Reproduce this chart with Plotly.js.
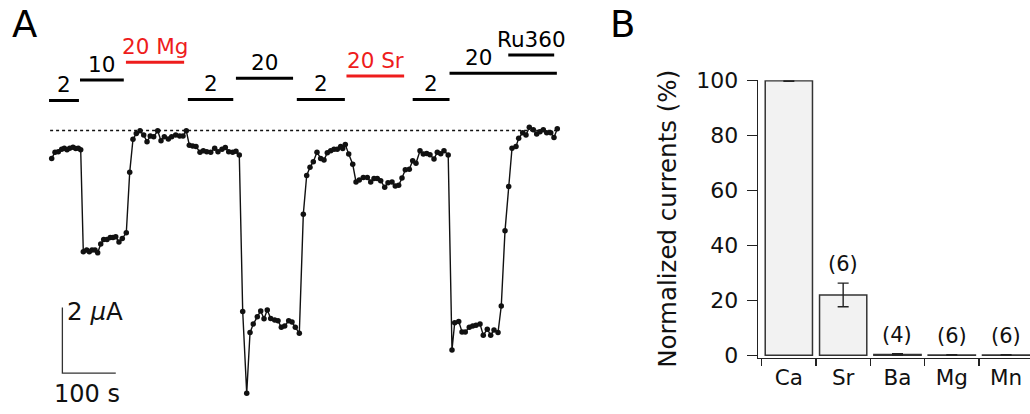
<!DOCTYPE html>
<html>
<head>
<meta charset="utf-8">
<script src="https://cdn.plot.ly/plotly-3.0.1.min.js"></script>
<style>
  html, body { margin: 0; padding: 0; background: #fff; }
  #chart { width: 1030px; height: 414px; }
</style>
</head>
<body>
<div id="chart"></div>
<script>
// ---------------- Panel A data: whole-cell current trace ----------------
const timeS = [
  0, 6.2, 12.4, 18.7, 23.6, 28.7, 33.7, 39.9, 44.9, 49.8, 54.3,
  59.2, 65.5, 70.4, 75.5, 81.1, 86.1, 91.8, 97.4, 103.6, 109.7, 114.8, 119.9, 126.0, 132.2, 139.7,
  146.1, 152.2, 158.4, 165.4, 172.3, 178.5, 184.6, 191.0, 198.5, 204.7, 210.9, 218.4, 224.7, 232.2, 239.7, 245.9, 252.1,
  257.7, 264.0, 270.2, 277.7, 283.9, 290.3, 297.8, 305.2, 311.4, 318.9, 325.1, 331.5, 338.9, 345.1, 351.3,
  357.7, 365.2, 371.4, 377.5, 385.0, 391.4, 397.6, 403.7, 410.1, 417.6, 423.8, 430.0, 436.3, 443.8, 450.0, 456.2, 463.7,
  471.2, 477.5, 483.7, 489.9, 496.8, 503.7, 509.9, 516.1, 522.5, 528.7, 534.8, 541.2, 545.0, 549.8,
  556.2, 563.7, 569.9, 576.0, 583.5, 591.0, 597.4, 603.6, 609.7, 616.1, 623.6, 629.8, 637.3, 643.4, 649.8, 656.0,
  662.2, 669.7, 676.0, 682.2, 689.7, 695.9, 702.2, 708.4, 715.9, 722.1, 728.5, 734.6, 742.5,
  749.6, 754.7, 762.2, 768.4, 774.5, 782.0, 788.4, 794.6, 802.1, 808.2, 815.7, 822.1, 828.3, 835.8,
  841.9, 848.9, 855.8, 862.0, 869.5, 874.5, 882.0, 888.2, 894.4, 901.9, 908.2, 914.4, 920.6, 927.0, 934.5, 940.6, 946.8
];
const currentUA = [
  -0.85, -0.66, -0.65, -0.57, -0.54, -0.59, -0.54, -0.51, -0.55, -0.54, -0.59,
  -3.70, -3.64, -3.70, -3.64, -3.64, -3.73, -3.46, -3.32, -3.32, -3.26, -3.26, -3.24, -3.40, -3.29, -3.12,
  -1.27, -0.27, -0.09, -0.01, -0.14, -0.34, -0.17, -0.19, -0.01, -0.31, -0.19, -0.26, -0.19, -0.14, -0.17, -0.17, -0.01,
  -0.45, -0.47, -0.49, -0.66, -0.62, -0.65, -0.66, -0.54, -0.65, -0.57, -0.52, -0.65, -0.66, -0.63, -0.75,
  -5.52, -8.01, -6.16, -5.90, -5.68, -5.50, -5.74, -5.47, -5.73, -5.78, -5.80, -6.00, -5.96, -5.80, -5.84, -6.00, -6.18,
  -2.55, -1.37, -1.12, -0.95, -0.66, -0.85, -0.90, -0.68, -0.62, -0.57, -0.57, -0.49, -0.55, -0.43,
  -0.72, -1.03, -1.57, -1.51, -1.43, -1.43, -1.57, -1.46, -1.46, -1.53, -1.73, -1.59, -1.57, -1.69, -1.67, -1.45,
  -1.20, -1.18, -0.92, -1.00, -0.62, -0.72, -0.70, -0.74, -0.87, -0.66, -0.71, -0.62, -0.75,
  -6.69, -5.86, -5.82, -6.14, -6.14, -6.00, -5.96, -5.94, -5.90, -6.24, -6.06, -6.24, -6.08, -6.16,
  -5.35, -3.06, -1.71, -0.54, -0.49, -0.24, -0.07, -0.14, 0.10, 0.02, -0.11, -0.04, 0.02, -0.07, -0.07, -0.21, 0.05
];

// Solution applications (labels, start/end times in s)
const solLabels = ['2', '10', '20 Mg', '2', '20', '2', '20 Sr', '2', '20', 'Ru360'];
const solStart  = [-5, 53, 139, 255, 345, 459, 552, 676, 745, 855];
const solEnd    = [51, 135, 248, 340, 452, 549, 660, 745, 946, 941];
const solRed    = [false, false, true, false, false, false, true, false, false, false];

// Scale bar values
const scaleTimeS = 100;
const scaleCurrentUA = 2;

// ---------------- Panel B data: normalized currents ----------------
const ions = ['Ca', 'Sr', 'Ba', 'Mg', 'Mn'];
const normCurrent = [100, 22, 0.3, 0.1, 0.1];
const normErr = [0.2, 4.3, 0.25, 0.1, 0.1];
const nCells = [null, 6, 4, 6, 6];

// ---------------- layout calibration (pixels) ----------------
const W = 1030, H = 414;
const FONT = 'DejaVu Sans, Verdana, sans-serif';
const RED = '#ee1c1c';
const pxPerS = 0.534, t0Px = 51.7, pxPerUA = 32.8, zeroPy = 130.5;
const aDomPx = [0, 618];
const xRangeA = [(aDomPx[0] - t0Px) / pxPerS, (aDomPx[1] - t0Px) / pxPerS];
const yRangeA = [(zeroPy - H) / pxPerUA, zeroPy / pxPerUA];
const solRowPx = [100.5, 80, 62.3, 99.5, 78.3, 99.5, 76, 99.5, 73.3, 55];
const scaleCorner = {t: 20, I: -7.4};

const traces = [];

// baseline (dotted)
traces.push({
  x: [timeS[0] - 3, timeS[timeS.length - 1] + 5], y: [0, 0],
  xaxis: 'x2', yaxis: 'y2', mode: 'lines',
  line: {color: '#111', width: 1.3, dash: '3px,3px'}, hoverinfo: 'skip'
});
// current trace
traces.push({
  x: timeS, y: currentUA, xaxis: 'x2', yaxis: 'y2',
  mode: 'lines+markers',
  line: {color: '#111', width: 1.4},
  marker: {color: '#111', size: 5.5}
});
// scale bar
traces.push({
  x: [scaleCorner.t, scaleCorner.t, scaleCorner.t + scaleTimeS],
  y: [scaleCorner.I + scaleCurrentUA, scaleCorner.I, scaleCorner.I],
  xaxis: 'x2', yaxis: 'y2', mode: 'lines',
  line: {color: '#333', width: 1.3}, hoverinfo: 'skip'
});

// panel B bars
traces.push({
  type: 'bar', x: ions, y: normCurrent, xaxis: 'x', yaxis: 'y',
  width: 0.87,
  marker: {color: '#f2f2f2', line: {color: '#333', width: 1.5}},
  error_y: {type: 'data', array: normErr, visible: true, color: '#222', thickness: 1.4, width: 5.5}
});

const shapes = [];
const annotations = [];

solLabels.forEach((lab, i) => {
  const yPaper = 1 - solRowPx[i] / H;
  const col = solRed[i] ? RED : '#000';
  shapes.push({
    type: 'line', xref: 'x2', yref: 'paper',
    x0: solStart[i], x1: solEnd[i], y0: yPaper, y1: yPaper,
    line: {color: col, width: 3}
  });
  // label centered over the part of the bar not covered by a later overlapping application
  let labEnd = solEnd[i];
  for (let j = i + 1; j < solLabels.length; j++) {
    if (solStart[j] > solStart[i] && solStart[j] < solEnd[i] && solStart[j] > solEnd[i] - (solEnd[i] - solStart[i]) * 0.6) {
      labEnd = Math.min(labEnd, solStart[j]);
    }
  }
  annotations.push({
    xref: 'x2', yref: 'paper', x: (solStart[i] + labEnd) / 2, y: yPaper,
    xanchor: 'center', yanchor: 'bottom', yshift: 1,
    text: lab, showarrow: false,
    font: {family: FONT, size: 21.5, color: col}
  });
});

// scale bar labels
annotations.push({
  xref: 'x2', yref: 'y2', x: scaleCorner.t, y: scaleCorner.I + scaleCurrentUA,
  xanchor: 'left', yanchor: 'middle', xshift: 3, yshift: -4,
  text: scaleCurrentUA + ' <i>µ</i>A', showarrow: false,
  font: {family: FONT, size: 24.5, color: '#111'}
});
annotations.push({
  xref: 'x2', yref: 'y2', x: scaleCorner.t + scaleTimeS / 2 - 3, y: scaleCorner.I,
  xanchor: 'center', yanchor: 'top', yshift: -5,
  text: scaleTimeS + ' s', showarrow: false,
  font: {family: FONT, size: 24, color: '#111'}
});

// panel letters
annotations.push({xref: 'paper', yref: 'paper', x: 24 / W, y: 1 - 24 / H, xanchor: 'center', yanchor: 'middle',
  text: 'A', showarrow: false, font: {family: FONT, size: 37, color: '#000'}});
annotations.push({xref: 'paper', yref: 'paper', x: 622 / W, y: 1 - 24 / H, xanchor: 'center', yanchor: 'middle',
  text: 'B', showarrow: false, font: {family: FONT, size: 37, color: '#000'}});

// n labels
ions.forEach((ion, i) => {
  if (nCells[i] == null) return;
  annotations.push({
    xref: 'x', yref: 'y', x: ion, y: normCurrent[i] + normErr[i],
    xanchor: 'center', yanchor: 'bottom', yshift: 5,
    text: '(' + nCells[i] + ')', showarrow: false,
    font: {family: FONT, size: 21, color: '#111'}
  });
});

const bX0 = 758, bYbot = 357.5, bYtop = 80.15;
const layout = {
  width: W, height: H,
  margin: {l: 0, r: 0, t: 0, b: 0},
  paper_bgcolor: '#fff', plot_bgcolor: 'rgba(0,0,0,0)',
  showlegend: false,
  font: {family: FONT, color: '#111'},
  xaxis: {
    domain: [bX0 / W, 1], anchor: 'y', type: 'category',
    range: [-0.568, 4.44],
    showline: true, linecolor: '#222', linewidth: 1.3,
    ticks: 'outside', tickson: 'boundaries', ticklen: 7, tickcolor: '#222', tickwidth: 1.3,
    tickfont: {family: FONT, size: 21.5, color: '#111'},
    showgrid: false, zeroline: false, fixedrange: true
  },
  yaxis: {
    domain: [1 - bYbot / H, 1 - bYtop / H], anchor: 'x',
    range: [-0.8, 100.2],
    showline: true, linecolor: '#222', linewidth: 1.3,
    ticks: 'outside', ticklen: 10, tickcolor: '#222', tickwidth: 1.3,
    tickvals: [0, 20, 40, 60, 80, 100],
    tickfont: {family: FONT, size: 22, color: '#111'},
    ticklabelstandoff: 4,
    title: {text: 'Normalized currents (%)', font: {family: FONT, size: 24.5, color: '#111'}, standoff: 12},
    showgrid: false, zeroline: false, fixedrange: true
  },
  xaxis2: {domain: [aDomPx[0] / W, aDomPx[1] / W], anchor: 'y2', range: xRangeA, visible: false, fixedrange: true},
  yaxis2: {domain: [0, 1], anchor: 'x2', range: yRangeA, visible: false, fixedrange: true},
  shapes: shapes,
  annotations: annotations,
  bargap: 0.13
};

Plotly.newPlot('chart', traces, layout, {displayModeBar: false, staticPlot: true});
</script>
</body>
</html>
